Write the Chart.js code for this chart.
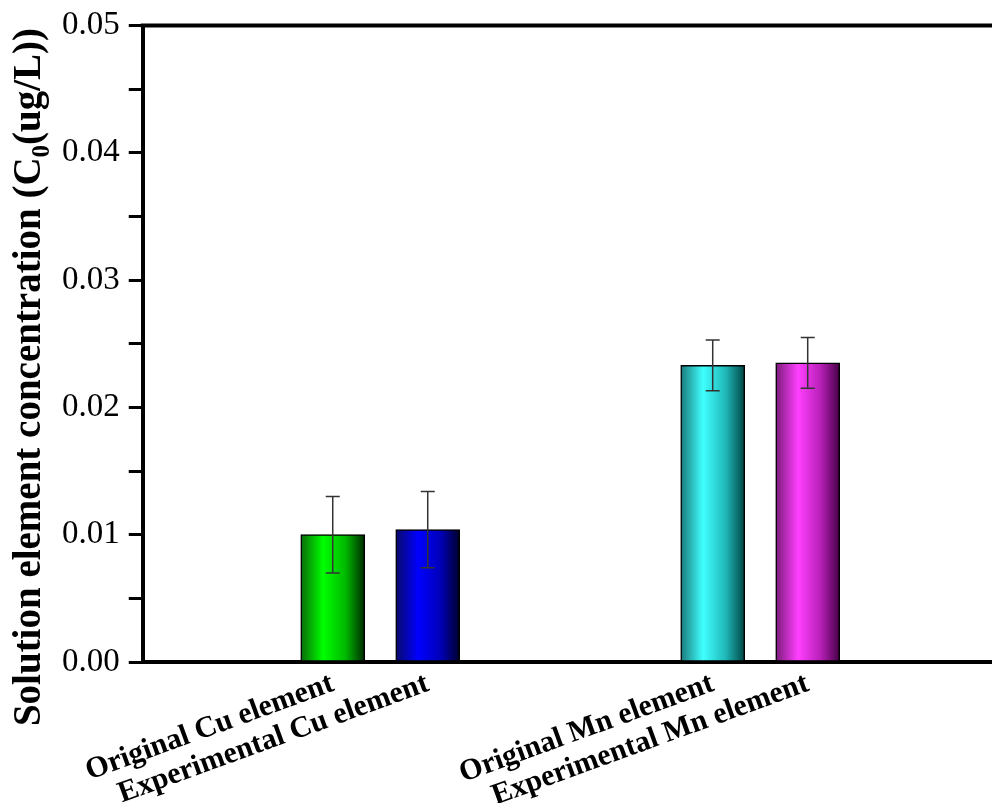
<!DOCTYPE html>
<html>
<head>
<meta charset="utf-8">
<script src="https://cdn.jsdelivr.net/npm/chart.js@4.4.1/dist/chart.umd.min.js"></script>
<style>
  html, body { margin: 0; padding: 0; background: #fff; overflow: hidden; }
  #wrap { width: 992px; height: 803px; }
</style>
</head>
<body>
<div id="wrap"><canvas id="myChart" width="992" height="803"></canvas></div>
<script>
// data
const categories = ["Original Cu element", "Experimental Cu element", "Original Mn element", "Experimental Mn element"];
const positions = [2, 3, 6, 7];
const concentration = [0.0100, 0.0104, 0.0233, 0.0235];
const errors = [0.0030, 0.0030, 0.0020, 0.0020];

const brightColors = ["#00ff00", "#0000ff", "#40ffff", "#ff40ff"];
const midColors = ["#00b800", "#0000b8", "#20b8b8", "#b820b8"];
const darkColors = ["#002a00", "#00002a", "#004545", "#450045"];
const edgeColors = ["#0a6a0a", "#0a0a6a", "#1a7a7a", "#7a1a7a"];

const serif = "'Liberation Serif', 'Times New Roman', serif";

function barFill(ctx) {
  const chart = ctx.chart;
  const i = ctx.dataIndex;
  if (!chart.chartArea || ctx.type !== "data") return brightColors[i] || "#888";
  const cx = chart.scales.x.getPixelForValue(positions[i]);
  const g = chart.ctx.createLinearGradient(cx - 32, 0, cx + 32, 0);
  g.addColorStop(0, edgeColors[i]);
  g.addColorStop(0.35, brightColors[i]);
  g.addColorStop(0.7, midColors[i]);
  g.addColorStop(1, darkColors[i]);
  return g;
}

// error bars, top frame line and y title with subscript
const extras = {
  id: "extras",
  afterDatasetsDraw(chart) {
    const c = chart.ctx, x = chart.scales.x, y = chart.scales.y;
    c.save();
    c.strokeStyle = "#333";
    c.lineWidth = 1.5;
    for (let i = 0; i < positions.length; i++) {
      const px = x.getPixelForValue(positions[i]);
      const top = y.getPixelForValue(concentration[i] + errors[i]);
      const bot = y.getPixelForValue(concentration[i] - errors[i]);
      c.beginPath();
      c.moveTo(px, top); c.lineTo(px, bot);
      c.moveTo(px - 7, top); c.lineTo(px + 7, top);
      c.moveTo(px - 7, bot); c.lineTo(px + 7, bot);
      c.stroke();
    }
    c.restore();
  },
  afterDraw(chart) {
    const c = chart.ctx, a = chart.chartArea;
    c.save();
    c.strokeStyle = "#000";
    c.lineWidth = 4;
    c.beginPath();
    c.moveTo(a.left - 2, a.top);
    c.lineTo(chart.width, a.top);
    c.stroke();

    // y axis title
    const big = "bold 39px " + serif, small = "bold 25px " + serif;
    const p1 = "Solution element concentration (C", p2 = "0", p3 = "(ug/L))";
    c.font = big;
    const w1 = c.measureText(p1).width, w3 = c.measureText(p3).width;
    c.font = small;
    const w2 = c.measureText(p2).width;
    const total = w1 + w2 + w3;
    c.translate(40, 377);
    c.rotate(-Math.PI / 2);
    c.fillStyle = "#000";
    c.textBaseline = "alphabetic";
    let sx = -total / 2;
    c.font = big; c.fillText(p1, sx, 0); sx += w1;
    c.font = small; c.fillText(p2, sx, 9); sx += w2;
    c.font = big; c.fillText(p3, sx, 0);
    c.restore();
  }
};

new Chart(document.getElementById("myChart"), {
  type: "bar",
  data: {
    datasets: [{
      data: positions.map((p, i) => ({ x: p, y: concentration[i] })),
      backgroundColor: barFill,
      borderColor: "#000",
      borderWidth: 1.5,
      borderSkipped: false,
      barThickness: 64
    }]
  },
  options: {
    responsive: false,
    animation: false,
    layout: { padding: { left: 53, top: 25, right: 0, bottom: 0 } },
    plugins: {
      legend: { display: false },
      tooltip: { enabled: false }
    },
    scales: {
      x: {
        type: "linear",
        offset: false,
        min: 0,
        max: 8.94,
        afterBuildTicks: (axis) => { axis.ticks = positions.map(v => ({ value: v })); },
        afterFit: (axis) => { axis.height = 141; },
        grid: { display: false, drawTicks: false, offset: false },
        border: { display: true, color: "#000", width: 4 },
        ticks: {
          autoSkip: false,
          minRotation: 20,
          maxRotation: 20,
          padding: 4,
          color: "#000",
          font: { family: serif, size: 30, weight: "bold" },
          callback: (v) => categories[positions.indexOf(v)]
        }
      },
      y: {
        min: 0,
        max: 0.05,
        afterBuildTicks: (axis) => {
          const t = [];
          for (let k = 0; k <= 10; k++) t.push({ value: k * 0.005 });
          axis.ticks = t;
        },
        grid: { display: true, drawOnChartArea: false, drawTicks: true, tickLength: 14, tickWidth: 3, tickColor: "#000" },
        border: { display: true, color: "#000", width: 4 },
        ticks: {
          padding: 9,
          color: "#000",
          font: { family: serif, size: 33, lineHeight: 1 },
          callback: (v) => {
            const k = Math.round(v * 1000);
            return k % 10 === 0 ? (k / 1000).toFixed(2) : "";
          }
        }
      }
    }
  },
  plugins: [extras]
});
</script>
</body>
</html>
